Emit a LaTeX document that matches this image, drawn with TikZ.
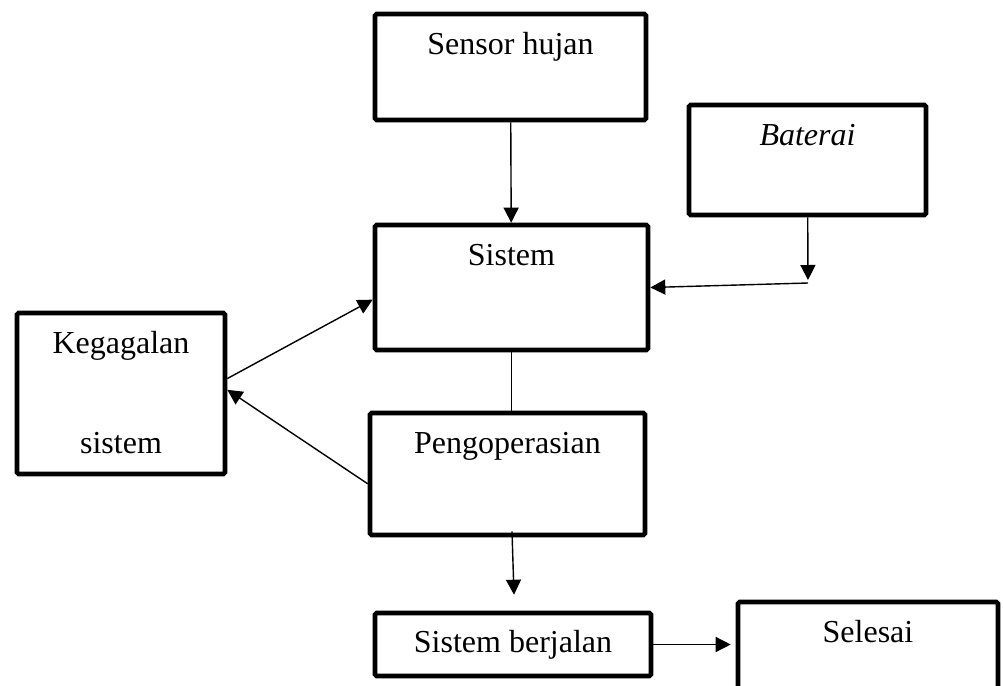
\documentclass[tikz,border=0pt]{standalone}
\usepackage{fontspec}
\setmainfont{Liberation Serif}
\usetikzlibrary{arrows.meta}

\begin{document}
\begin{tikzpicture}[x=0.5pt, y=-0.5pt,
    font=\fontsize{16pt}{19.2pt}\selectfont,
    kotak/.style={draw, line width=2.3pt, rounded corners=0.8pt},
    judul/.style={label={[anchor=base, yshift=-21.5pt, inner sep=0pt]north:#1}},
    panah/.style={line width=0.7pt, -{Triangle[length=7.5pt, width=7.5pt]}}]

    \useasboundingbox (0,0) rectangle (1003,686);
    \clip (0,0) rectangle (1003,686);

    \node[kotak, minimum width=135.5pt, minimum height=53pt, judul=Sensor hujan]
        (sensor) at (510.5,67) {};
    \node[kotak, minimum width=118.5pt, minimum height=55pt, judul=\textit{Baterai}]
        (baterai) at (807.5,160) {};
    \node[kotak, minimum width=136.5pt, minimum height=62.5pt, judul=Sistem]
        (sistem) at (511.5,287.5) {};
    \node[kotak, minimum width=104pt, minimum height=80.5pt, judul=Kegagalan,
        label={[anchor=base, yshift=-71.5pt, inner sep=0pt]north:sistem}]
        (gagal) at (121,393.5) {};
    \node[kotak, minimum width=137.5pt, minimum height=61pt, judul=Pengoperasian]
        (operasi) at (507.5,474) {};
    \node[kotak, minimum width=138pt, minimum height=31.5pt]
        (jalan) at (513,644.5) {Sistem berjalan};
    \node[kotak, minimum width=130pt, minimum height=68pt, judul=Selesai]
        (selesai) at (868,670) {};

    \coordinate (belok) at (808,283);

    \draw[panah] (sensor) -- (sistem);
    \draw[panah, shorten >=1.5pt] (baterai) -- (belok);
    \draw[panah] (belok) -- (sistem.east);
    \draw[panah] (gagal.8) -- (sistem.185);
    \draw[panah] (operasi.184) -- (gagal.2);
    \draw[line width=0.7pt] (sistem.south) -- (sistem.south |- operasi.north);
    \draw[panah] ([shift={(4.5,-6)}]operasi.south) -- ([shift={(1,-16)}]jalan.north);
    \draw[panah, shorten >=2.5pt] (jalan.east) -- (jalan.east -| selesai.west);
\end{tikzpicture}
\end{document}
